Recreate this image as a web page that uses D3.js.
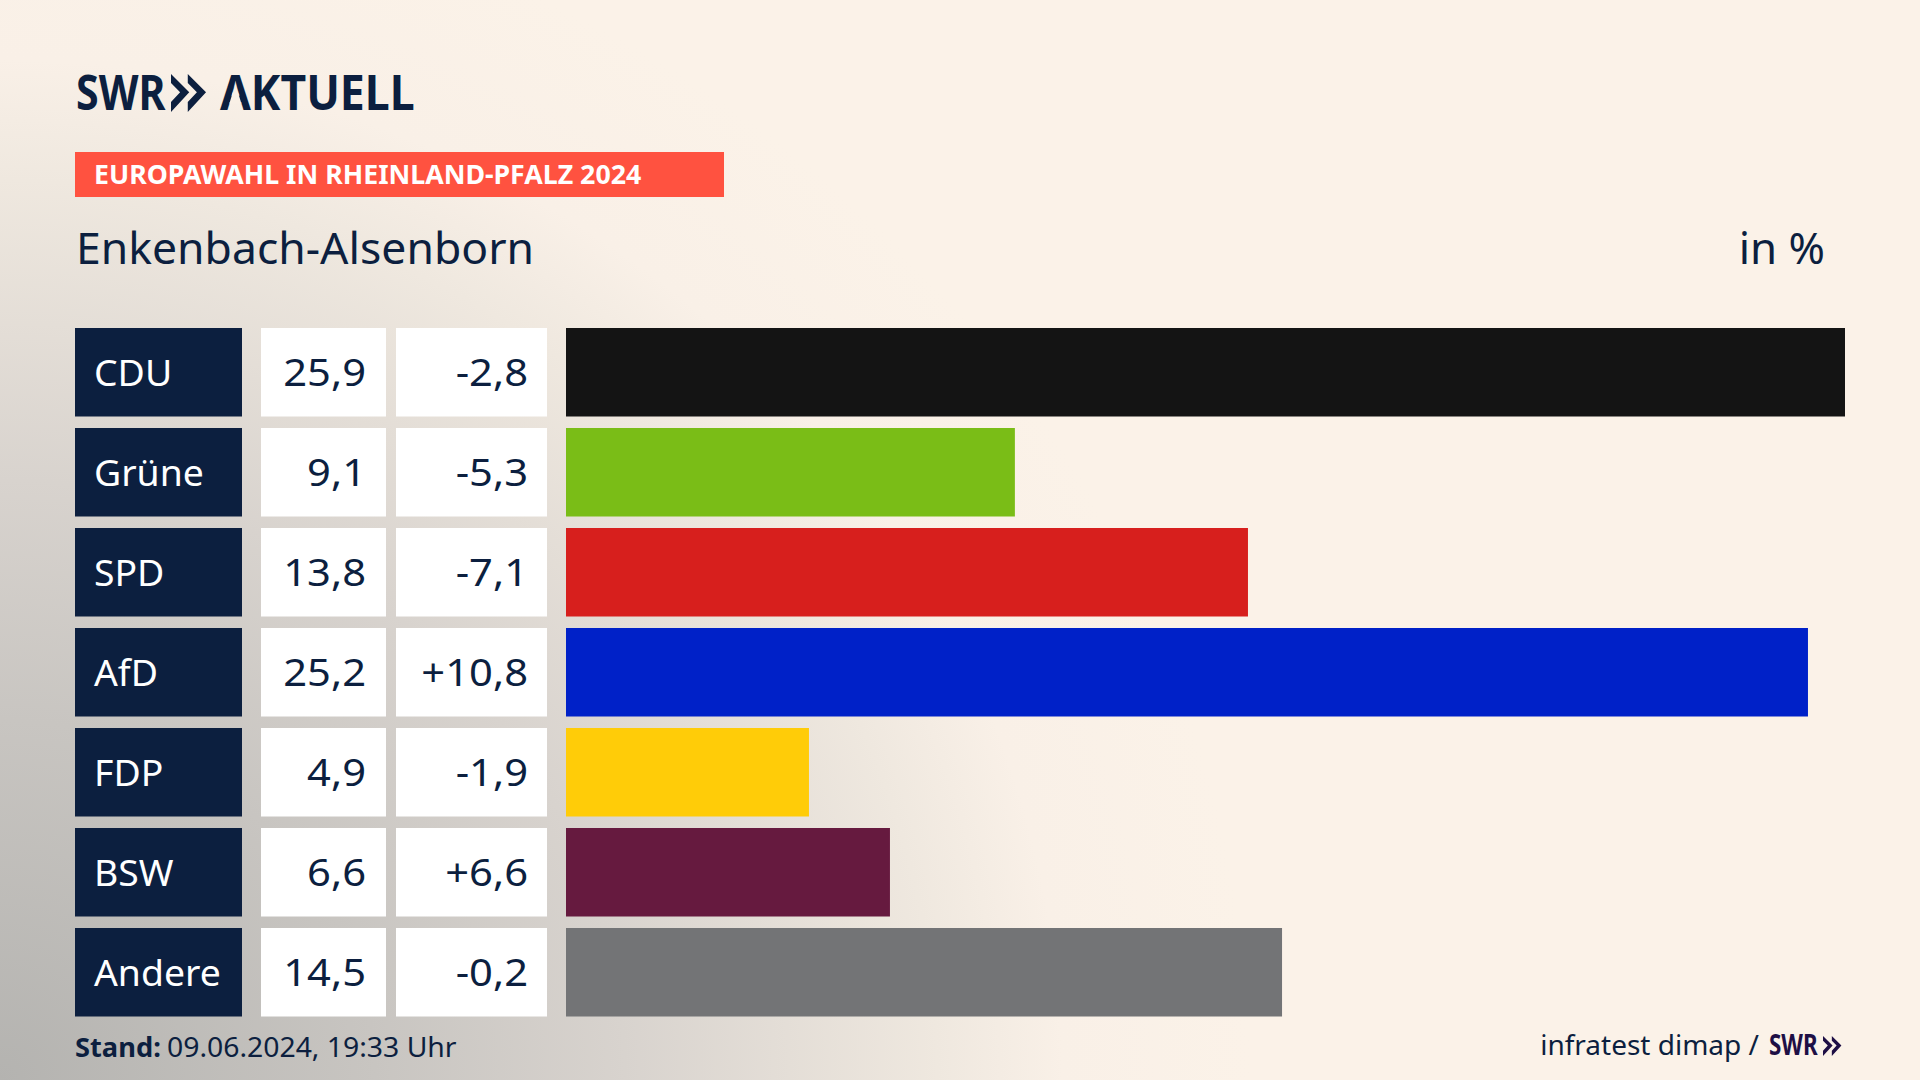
<!DOCTYPE html>
<html lang="de">
<head>
<meta charset="utf-8">
<title>Europawahl in Rheinland-Pfalz 2024</title>
<script src="https://cdn.jsdelivr.net/npm/d3@7"></script>
<style>
  html, body { margin: 0; padding: 0; background: #fbf2e8; }
  svg { display: block; font-family: "Noto Sans", sans-serif; }
</style>
</head>
<body>
<div id="grafico"></div>
<script>
const parteien = ["CDU", "Grüne", "SPD", "AfD", "FDP", "BSW", "Andere"];
// bar lengths as measured, a little finer than the printed labels
const anteile = [25.9, 9.09, 13.81, 25.15, 4.92, 6.56, 14.5];
const anteilLabels = ["25,9", "9,1", "13,8", "25,2", "4,9", "6,6", "14,5"];
const differenzLabels = ["-2,8", "-5,3", "-7,1", "+10,8", "-1,9", "+6,6", "-0,2"];
const farben = ["#141414", "#7abd17", "#d71f1d", "#0021c8", "#ffcc08", "#661a3f", "#737476"];

const width = 1920;
const height = 1080;
const navy = "#0c1f3f";
const creme = "#fbf2e8";

const svg = d3.select("#grafico").append("svg")
  .attr("width", width)
  .attr("height", height);

/**************************************************
 * Background
 ***************************************************/
const defs = svg.append("defs");

const verlauf = defs.append("radialGradient")
  .attr("id", "verlauf")
  .attr("gradientUnits", "userSpaceOnUse")
  .attr("cx", 0).attr("cy", 0).attr("r", 1)
  .attr("gradientTransform", "translate(0 1080) scale(1250 1200)");
[[0, "#b4b3b0"], [0.3, "#c8c5c1"], [0.5, "#d8d3ce"], [0.75, "#efe8df"], [0.85, "#f9f0e7"], [1, creme]]
  .forEach(s => verlauf.append("stop").attr("offset", s[0]).attr("stop-color", s[1]));

svg.append("rect").attr("width", width).attr("height", height).attr("fill", creme);
svg.append("rect").attr("width", width).attr("height", height).attr("fill", "url(#verlauf)");

/**************************************************
 * Text helper, sx squeezes or widens the glyphs to the original's width
 ***************************************************/
function texto(str, x, y, size, opts = {}) {
  return svg.append("text")
    .attr("transform", `translate(${x},${y}) scale(${opts.sx || 1},1)`)
    .attr("text-anchor", opts.anchor || "start")
    .attr("font-size", size)
    .attr("font-weight", opts.weight || 400)
    .attr("fill", opts.fill || navy)
    .text(str);
}

function pfeile(x, y, h, fill) {
  // the two chevrons of the logo
  const w = h * 0.48;
  const linie = d3.line();
  [0, 0.92].forEach(k => {
    const x0 = x + k * w;
    svg.append("path")
      .attr("d", linie([
        [x0, y], [x0 + w, y + h * 0.48], [x0, y + h],
        [x0, y + h * 0.74], [x0 + w * 0.5, y + h * 0.48], [x0, y + h * 0.24]
      ]) + "Z")
      .attr("fill", fill);
  });
}

/**************************************************
 * Header
 ***************************************************/
texto("SWR", 76, 110, 49, { weight: 700, sx: 0.84 });
pfeile(171, 74, 38, navy);
texto("AKTUELL", 220, 110, 49, { weight: 700, sx: 0.91 });
// the logo's A has no crossbar
svg.append("path")
  .attr("d", d3.line()([[229.4, 103.6], [241.4, 103.6], [238, 92.4], [232.7, 92.4]]) + "Z")
  .attr("fill", "#f9f0e6");

svg.append("rect")
  .attr("x", 75).attr("y", 152)
  .attr("width", 649).attr("height", 45)
  .attr("fill", "#ff5240");
texto("EUROPAWAHL IN RHEINLAND-PFALZ 2024", 94, 184, 27, { weight: 700, fill: "#fff", sx: 0.99 });

texto("Enkenbach-Alsenborn", 76, 264, 43, { sx: 1.035 });
texto("in %", 1825, 264, 43, { anchor: "end", sx: 1.02 });

/**************************************************
 * Scales
 ***************************************************/
const xScale = d3.scaleLinear()
  .domain([0, d3.max(anteile)])
  .range([566, 1845]);

const yScale = d3.scaleBand()
  .domain(parteien)
  .range([328, 1016.5])
  .paddingInner(0.115)
  .paddingOuter(0);

const banda = yScale.bandwidth();

/**************************************************
 * Rows
 ***************************************************/
const filas = svg.selectAll("g.fila")
  .data(parteien)
  .enter()
  .append("g")
  .attr("class", "fila");

filas.append("rect")
  .attr("x", 75).attr("width", 167)
  .attr("y", d => yScale(d)).attr("height", banda)
  .attr("fill", navy);

filas.append("rect")
  .attr("x", 261).attr("width", 125)
  .attr("y", d => yScale(d)).attr("height", banda)
  .attr("fill", "#fff");

filas.append("rect")
  .attr("x", 396).attr("width", 151)
  .attr("y", d => yScale(d)).attr("height", banda)
  .attr("fill", "#fff");

filas.append("rect")
  .attr("class", "bar")
  .attr("x", xScale(0))
  .attr("width", (d, i) => xScale(anteile[i]) - xScale(0))
  .attr("y", d => yScale(d)).attr("height", banda)
  .attr("fill", (d, i) => farben[i]);

parteien.forEach((p, i) => {
  const base = yScale(p) + banda / 2 + 13.5;
  texto(p, 94, base, 37, { fill: "#fff", sx: 1.01 });
  texto(anteilLabels[i], 366, base, 39, { anchor: "end", sx: 1.07 });
  texto(differenzLabels[i], 528, base, 39, { anchor: "end", sx: 1.07 });
});

/**************************************************
 * Footer
 ***************************************************/
texto("Stand:", 75, 1057, 27, { weight: 700, sx: 1.01 });
texto("09.06.2024, 19:33 Uhr", 167, 1057, 27, { sx: 1.05 });
texto("infratest dimap /", 1759, 1055, 28, { anchor: "end", sx: 1 });
texto("SWR", 1769, 1055, 28, { weight: 700, fill: "#1e0f45", sx: 0.8 });
pfeile(1823, 1036, 20, "#1e0f45");
</script>
</body>
</html>
